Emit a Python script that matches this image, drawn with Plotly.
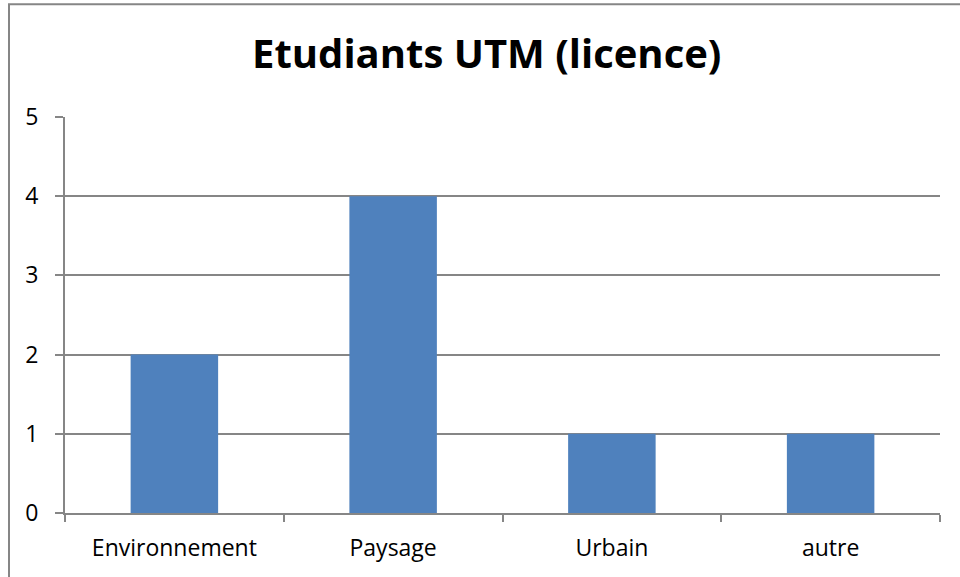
import plotly.graph_objects as go

# categories and counts
categories = ["Environnement", "Paysage", "Urbain", "autre"]
counts = [2, 4, 1, 1]
y_ticks = [0, 1, 2, 3, 4, 5]

GRAY = "#868686"
BLUE = "#4F81BD"

fig = go.Figure(go.Bar(x=categories, y=counts, marker_color=BLUE, marker_line_width=0))

fig.update_layout(
    width=960, height=577,
    margin=dict(l=65, r=20, t=117, b=64),
    plot_bgcolor="white", paper_bgcolor="white",
    bargap=0.6,
    showlegend=False,
    font=dict(family="Open Sans", size=23, color="black"),
    title=dict(text="<b>Etudiants UTM (licence)</b>", x=0.507, xanchor="center",
               yref="container", y=1 - 54 / 577, yanchor="middle",
               font=dict(size=40, color="black")),
)
fig.update_xaxes(
    showline=True, linecolor=GRAY, linewidth=2,
    ticks="outside", tickson="boundaries", ticklen=7, tickcolor=GRAY, tickwidth=2,
    ticklabelstandoff=13,
    showgrid=False,
)
fig.update_yaxes(
    range=[0, 5], tickvals=y_ticks,
    showline=True, linecolor=GRAY, linewidth=2,
    ticks="outside", ticklen=8, tickcolor=GRAY, tickwidth=2,
    ticklabelstandoff=12,
    showgrid=True, gridcolor=GRAY, gridwidth=2,
    zeroline=False,
)
# chart-area border (runs off the right and bottom edges, like the original)
fig.add_shape(type="rect", xref="paper", yref="paper",
              x0=-0.064, x1=1.2, y0=-0.5, y1=1.285,
              line=dict(color=GRAY, width=2), layer="below")

fig.write_html("out.html", config={"displayModeBar": False},
               post_script="document.body.style.margin='0';")
